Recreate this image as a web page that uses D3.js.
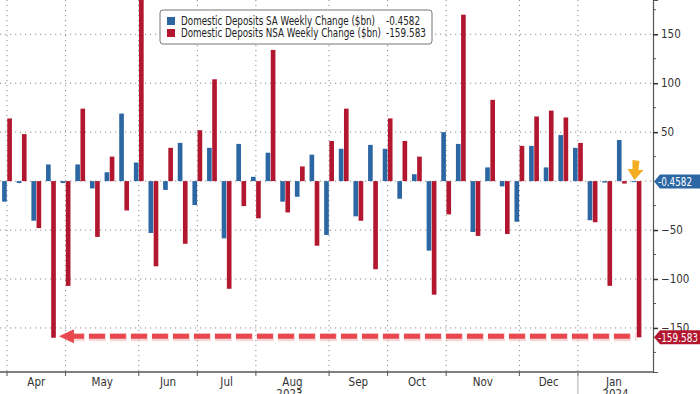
<!DOCTYPE html>
<html>
<head>
<meta charset="utf-8">
<script src="https://cdn.jsdelivr.net/npm/d3@7"></script>
<style>
    body { margin: 0; background: #fff; }
    #chart { width: 700px; height: 394px; }
    text { font-family: "Liberation Sans Narrow", "DejaVu Sans Condensed", "Liberation Sans", sans-serif; }
</style>
</head>
<body>
<div id="chart"></div>
<script>

// weekly dates (Wednesdays)
let weeks = [
    "2023-04-05", "2023-04-12", "2023-04-19", "2023-04-26",
    "2023-05-03", "2023-05-10", "2023-05-17", "2023-05-24", "2023-05-31",
    "2023-06-07", "2023-06-14", "2023-06-21", "2023-06-28",
    "2023-07-05", "2023-07-12", "2023-07-19", "2023-07-26",
    "2023-08-02", "2023-08-09", "2023-08-16", "2023-08-23", "2023-08-30",
    "2023-09-06", "2023-09-13", "2023-09-20", "2023-09-27",
    "2023-10-04", "2023-10-11", "2023-10-18", "2023-10-25",
    "2023-11-01", "2023-11-08", "2023-11-15", "2023-11-22", "2023-11-29",
    "2023-12-06", "2023-12-13", "2023-12-20", "2023-12-27",
    "2024-01-03", "2024-01-10", "2024-01-17", "2024-01-24", "2024-01-31"
];

// Domestic Deposits SA Weekly Change ($bn)
let saChange = [
    -21, -2, -40.5, 17,
    -2, 17, -7.5, 9, 69,
    19, -53, -9, 39,
    -24.5, 34, -58.5, 38,
    4.4, 29, -21, -16, 27,
    -55, 33, -36, 37,
    33, -18, 7, -71,
    50, 38, -52, 14, -5.4,
    -41.5, 36, 14, 47,
    34, -40, -1.5, 42, -0.4582
];

// Domestic Deposits NSA Weekly Change ($bn)
let nsaChange = [
    64, 48, -48, -160,
    -107, 74, -57, 25, -30,
    195, -87, 34, -64,
    52, 104, -110, -25.5,
    -38, 134, -32, 15, -66,
    41, 74, -40.5, -90,
    64, 41, 25, -116,
    -34, 170, -56, 83, -54,
    36, 66, 72, 65,
    39, -42, -107, -2.5, -159.583
];

let seriesNames = ["Domestic Deposits SA Weekly Change ($bn)", "Domestic Deposits NSA Weekly Change ($bn)"];
let seriesLabels = ["-0.4582", "-159.583"];
let yTicks = [-150, -100, -50, 0, 50, 100, 150];
let monthNames = ["Jan", "Feb", "Mar", "Apr", "May", "Jun", "Jul", "Aug", "Sep", "Oct", "Nov", "Dec"];

let colors = {sa: "#2c67a4", nsa: "#b2172f"};

let parseDate = d3.timeParse("%Y-%m-%d");

let data = weeks.map((w, i) => ({date: parseDate(w), key: w, sa: saChange[i], nsa: nsaChange[i]}));

let width = 653, height = 372;

let svg = d3.select("#chart").append("svg")
    .attr("width", 700)
    .attr("height", 394);

// scales
let x0 = d3.scaleBand()
    .domain(weeks)
    .range([-0.3, 643.8])
    .paddingInner(0.33)
    .paddingOuter(0.165);

let x1 = d3.scaleBand()
    .domain(["sa", "nsa"])
    .range([0, x0.bandwidth()])
    .paddingInner(0.1);

let y = d3.scaleLinear()
    .domain([-195, 185])
    .range([height, 0]);

let center = d => x0(d) + x0.bandwidth() / 2;

// month starts = first week of each month
let monthStarts = data.filter((d, i) => i === 0 || d.date.getMonth() !== data[i - 1].date.getMonth());

// clip for bars
svg.append("clipPath").attr("id", "plotClip")
    .append("rect").attr("x", 0).attr("y", 0).attr("width", width).attr("height", height);

// horizontal grid
svg.append("g").selectAll("line")
    .data(yTicks)
    .enter().append("line")
    .attr("x1", 0).attr("x2", width)
    .attr("y1", d => y(d)).attr("y2", d => y(d))
    .attr("stroke", "#8a8a8a")
    .attr("stroke-width", 1)
    .attr("stroke-dasharray", "1.2,3.8");

// vertical month grid
svg.append("g").selectAll("line")
    .data(monthStarts)
    .enter().append("line")
    .attr("x1", d => center(d.key)).attr("x2", d => center(d.key))
    .attr("y1", 0).attr("y2", height)
    .attr("stroke", "#8a8a8a")
    .attr("stroke-width", 1)
    .attr("stroke-dasharray", "1.2,3.8");

// bars
let barsGroup = svg.append("g").attr("clip-path", "url(#plotClip)");

let groups = barsGroup.selectAll("g")
    .data(data)
    .enter().append("g")
    .attr("transform", d => `translate(${x0(d.key)},0)`);

groups.selectAll("rect")
    .data(d => ["sa", "nsa"].map(k => ({k: k, v: d[k]})))
    .enter().append("rect")
    .attr("x", d => x1(d.k))
    .attr("width", x1.bandwidth())
    .attr("y", d => y(Math.max(0, d.v)))
    .attr("height", d => Math.max(1, Math.abs(y(d.v) - y(0))))
    .attr("fill", d => colors[d.k]);

// right axis
let yAxis = d3.axisRight(y)
    .tickValues(yTicks.filter(d => d !== 0))
    .tickSize(5)
    .tickPadding(3)
    .tickFormat(d3.format("d"));

let yAxisGroup = svg.append("g")
    .attr("transform", `translate(${width},0)`)
    .call(yAxis);

yAxisGroup.select(".domain").attr("stroke", "#555").attr("stroke-width", 1.2);
yAxisGroup.selectAll(".tick line").attr("stroke", "#333").attr("stroke-width", 1.5);
yAxisGroup.selectAll(".tick text").attr("fill", "#333").attr("font-size", "11.5px");

// minor ticks
svg.append("g").selectAll("line")
    .data(d3.range(-175, 185, 25).filter(d => d % 50 !== 0))
    .enter().append("line")
    .attr("x1", width).attr("x2", width + 3)
    .attr("y1", d => y(d)).attr("y2", d => y(d))
    .attr("stroke", "#555");

// bottom axis line
svg.append("line")
    .attr("x1", 0).attr("x2", width)
    .attr("y1", height).attr("y2", height)
    .attr("stroke", "#555").attr("stroke-width", 1.5);

// month ticks and labels
svg.append("g").selectAll("line")
    .data(monthStarts)
    .enter().append("line")
    .attr("x1", d => center(d.key)).attr("x2", d => center(d.key))
    .attr("y1", height).attr("y2", height + 4)
    .attr("stroke", "#555");

let monthEdges = monthStarts.map(d => center(d.key)).concat([650]);

svg.append("g").selectAll("text")
    .data(monthStarts)
    .enter().append("text")
    .attr("x", (d, i) => (monthEdges[i] + monthEdges[i + 1]) / 2)
    .attr("y", 386)
    .attr("text-anchor", "middle")
    .attr("font-size", "11.5px")
    .attr("fill", "#333")
    .text(d => monthNames[d.date.getMonth()]);

// year labels and separator
let janX = center(monthStarts.find(d => d.date.getFullYear() === 2024).key);

svg.append("line")
    .attr("x1", janX).attr("x2", janX)
    .attr("y1", height).attr("y2", 394)
    .attr("stroke", "#aaa");

svg.append("text")
    .attr("x", (monthEdges[0] + janX) / 2 - 3).attr("y", 398)
    .attr("text-anchor", "middle").attr("font-size", "11.5px").attr("fill", "#333")
    .text("2023");

svg.append("text")
    .attr("x", (janX + width) / 2).attr("y", 398)
    .attr("text-anchor", "middle").attr("font-size", "11.5px").attr("fill", "#333")
    .text("2024");

// dashed arrow at the latest NSA value
let arrowY = y(nsaChange[nsaChange.length - 1]) - 1;
let lastX = center(weeks[weeks.length - 1]);
let aprilX = center(weeks[3]);

svg.append("line")
    .attr("x1", aprilX + 17).attr("x2", lastX)
    .attr("y1", arrowY + 1).attr("y2", arrowY + 1)
    .attr("stroke", "#f3b0b2").attr("stroke-width", 8)
    .attr("stroke-dasharray", "17,4").attr("opacity", 0.5);

svg.append("line")
    .attr("x1", aprilX + 17).attr("x2", lastX - 2)
    .attr("y1", arrowY).attr("y2", arrowY)
    .attr("stroke", "#e8484d").attr("stroke-width", 5)
    .attr("stroke-dasharray", "16,5");

svg.append("path")
    .attr("d", `M${aprilX + 8},${arrowY} L${aprilX + 23},${arrowY - 7} L${aprilX + 23},${arrowY + 7} Z`)
    .attr("fill", "#e8484d");

// yellow arrow over the last week
svg.append("path")
    .attr("d", `M${lastX - 4},160 L${lastX + 3},161 L${lastX + 2},170 L${lastX + 7},170 L${lastX - 2},180 L${lastX - 9},169 L${lastX - 4},169 Z`)
    .attr("fill", "#f2ad22");

// value labels on the axis
let labelData = [
    {v: saChange[saChange.length - 1], text: seriesLabels[0], color: colors.sa, len: 34},
    {v: nsaChange[nsaChange.length - 1], text: seriesLabels[1], color: colors.nsa, len: 40}
];

let labels = svg.append("g").selectAll("g")
    .data(labelData)
    .enter().append("g")
    .attr("transform", d => `translate(${width + 1},${y(d.v)})`);

labels.append("path")
    .attr("d", "M0,0 L6,-7 L47,-7 L47,7 L6,7 Z")
    .attr("fill", d => d.color);

labels.append("text")
    .attr("x", 4).attr("y", 4.5)
    .attr("font-size", "11.5px")
    .attr("fill", "#fff")
    .attr("textLength", d => d.len)
    .attr("lengthAdjust", "spacingAndGlyphs")
    .text(d => d.text);

// legend
let legend = svg.append("g").attr("transform", "translate(160,10)");

legend.append("rect")
    .attr("width", 272).attr("height", 34).attr("rx", 3)
    .attr("fill", "#fff").attr("stroke", "#777").attr("stroke-width", 1);

let legendRows = legend.selectAll(".row")
    .data([["sa", 0], ["nsa", 1]])
    .enter().append("g")
    .attr("class", "row")
    .attr("transform", d => `translate(7,${7 + d[1] * 12})`);

legendRows.append("rect")
    .attr("width", 8).attr("height", 8)
    .attr("fill", d => colors[d[0]]);

legendRows.append("text")
    .attr("x", 14).attr("y", 8)
    .attr("font-size", "11.5px").attr("fill", "#222")
    .attr("textLength", d => d[1] === 0 ? 194 : 200)
    .attr("lengthAdjust", "spacingAndGlyphs")
    .text(d => seriesNames[d[1]]);

legendRows.append("text")
    .attr("x", 219).attr("y", 8)
    .attr("font-size", "11.5px").attr("fill", "#222")
    .attr("textLength", d => d[1] === 0 ? 34 : 40)
    .attr("lengthAdjust", "spacingAndGlyphs")
    .text(d => seriesLabels[d[1]]);

</script>
</body>
</html>
